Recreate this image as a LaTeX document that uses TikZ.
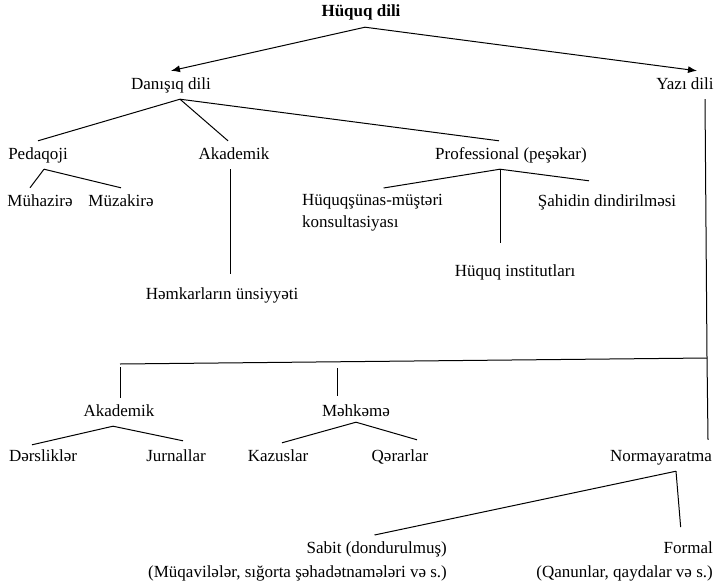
\documentclass[tikz,border=0pt]{standalone}
\usepackage{fontspec}
\setmainfont{Liberation Serif}
\usetikzlibrary{arrows.meta}

\tikzset{
	lbl/.style={inner xsep=0pt,inner ysep=6pt,text height=12pt,text depth=4pt,anchor=base},
	twoline/.style={inner xsep=0pt,inner ysep=6pt,anchor=north east,align=right},
	link/.style={line width=1pt},
	tip/.style={-{Latex[length=9pt,width=7pt]}},
}

\begin{document}
\begin{tikzpicture}[x=1pt,y=-1pt,font=\fontsize{17pt}{22.5pt}\selectfont]
	\useasboundingbox (0,0) rectangle (719,586);

	% top level
	\node[lbl] (huq) at (361,17) {\bfseries Hüquq dili};
	\node[lbl] (dan) at (171,89) {Danışıq dili};
	\node[lbl] (yazi) at (685,89) {Yazı dili};
	\draw[link,tip] ([xshift=4pt]huq.south) -- (dan.north);
	\draw[link,tip] ([xshift=4pt]huq.south) -- ([xshift=12pt]yazi.north);

	% danisiq dili
	\node[lbl] (ped) at (38,159) {Pedaqoji};
	\node[lbl] (akd) at (234,159) {Akademik};
	\node[lbl] (prof) at (511,159) {Professional (peşəkar)};
	\draw[link] ([xshift=9pt]dan.south) -- (ped.north);
	\draw[link] ([xshift=9pt]dan.south) -- ([xshift=-6pt]akd.north);
	\draw[link] ([xshift=9pt]dan.south) -- ([xshift=-12pt]prof.north);

	\node[lbl] (muh) at (40,206) {Mühazirə};
	\node[lbl] (muz) at (121,206) {Müzakirə};
	\draw[link] ([xshift=6pt]ped.south) -- ([xshift=-10pt]muh.north);
	\draw[link] ([xshift=6pt]ped.south) -- (muz.north);

	\node[lbl] (hemk) at (222,299) {Həmkarların ünsiyyəti};
	\draw[link] ([xshift=-4pt]akd.south) -- ([xshift=8pt,yshift=7pt]hemk.north);

	\node[inner xsep=0pt,inner ysep=6pt,anchor=north west,align=left] (muster) at (302,188) {Hüquqşünas-müştəri\\konsultasiyası};
	\node[lbl] (sahid) at (607,206) {Şahidin dindirilməsi};
	\node[lbl] (inst) at (515,276) {Hüquq institutları};
	\draw[link] ([xshift=-11pt]prof.south) -- ([xshift=11pt]muster.north);
	\draw[link] ([xshift=-11pt]prof.south) -- ([xshift=-15pt,yshift=15pt]inst.north);
	\draw[link] ([xshift=-11pt]prof.south) -- ([xshift=-18pt,yshift=7pt]sahid.north);

	% yazi dili
	\coordinate (ybend) at (707,358);
	\coordinate (yleft) at (120,364);
	\node[lbl] (norm) at (661,461) {Normayaratma};
	\draw[link] ([xshift=20pt]yazi.south) -- (ybend) -- ([xshift=47pt,yshift=3pt]norm.north);
	\draw[link] (ybend) -- (yleft);

	\node[lbl] (akd2) at (119,416) {Akademik};
	\node[lbl] (mehk) at (356,416) {Məhkəmə};
	\coordinate (akdrop) at (120,367);
	\coordinate (mhdrop) at (337,368);
	\draw[link] (akdrop) -- ([xshift=1pt]akd2.north);
	\draw[link] (mhdrop) -- ([xshift=-19pt,yshift=2pt]mehk.north);

	\node[lbl] (ders) at (43,461) {Dərsliklər};
	\node[lbl] (jurn) at (176,461) {Jurnallar};
	\node[lbl] (kaz) at (278,461) {Kazuslar};
	\node[lbl] (qer) at (400,461) {Qərarlar};
	\draw[link] ([xshift=-6pt]akd2.south) -- ([xshift=-11pt,yshift=-2pt]ders.north);
	\draw[link] ([xshift=-6pt]akd2.south) -- ([xshift=7pt,yshift=2pt]jurn.north);
	\draw[link] ([yshift=4pt]mehk.south) -- ([xshift=4pt]kaz.north);
	\draw[link] ([yshift=4pt]mehk.south) -- ([xshift=17pt,yshift=3pt]qer.north);

	\node[twoline] (sabit) at (447,535) {Sabit (dondurulmuş)\\[1.5pt](Müqavilələr, sığorta şəhadətnamələri və s.)};
	\node[twoline] (formal) at (713,535) {Formal\\[1.5pt](Qanunlar, qaydalar və s.)};
	\draw[link] ([xshift=15pt]norm.south) -- ([xshift=77pt]sabit.north);
	\draw[link] ([xshift=15pt]norm.south) -- ([xshift=56pt,yshift=8pt]formal.north);
\end{tikzpicture}
\end{document}
